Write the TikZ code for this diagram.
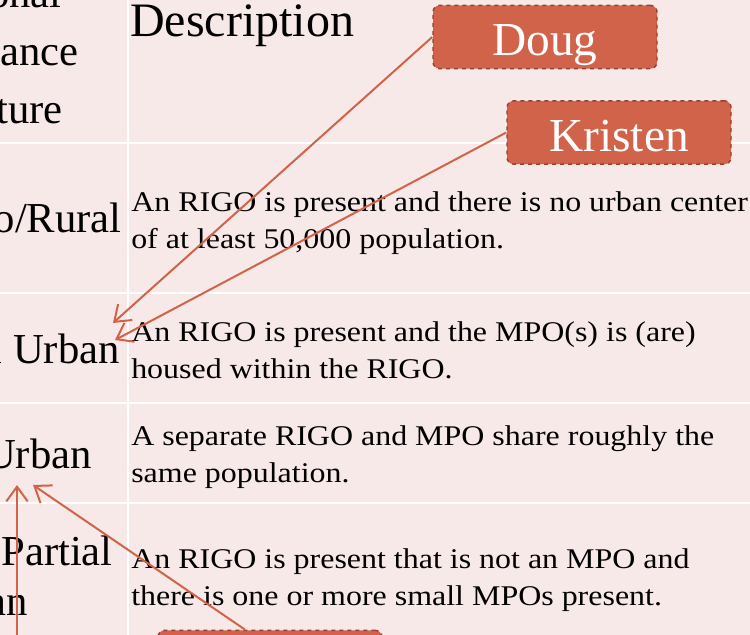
\documentclass[tikz,border=0pt]{standalone}
\usepackage{fontspec}
\setmainfont{Liberation Serif}
\newfontfamily\descfont[FakeStretch=1.12]{Liberation Serif}
\usepackage{xcolor}
\usepackage{tikz}
\usetikzlibrary{arrows.meta,positioning}

\definecolor{cellpink}{RGB}{247,233,232}
\definecolor{callout}{RGB}{209,99,74}
\definecolor{calloutedge}{RGB}{158,62,46}

\begin{document}
\begin{tikzpicture}[
  x=0.75pt, y=-0.75pt,
  headtext/.style={font=\fontsize{32}{43}\selectfont, inner sep=0pt},
  desctext/.style={font=\fontsize{21.4}{27.75}\descfont, inner sep=0pt,
    align=left, anchor=base west},
  callbox/.style={fill=callout, draw=calloutedge, dashed, line width=1.1pt,
    rounded corners=5pt, text=white, font=\fontsize{35.5}{40}\selectfont,
    minimum width=168pt, minimum height=47.5pt, inner sep=0pt,
    text height=28.5pt, text depth=0pt},
  gridline/.style={draw=white, line width=2.2pt},
  arrow/.style={-{Straight Barb[length=11pt,width=16pt]}, line width=1.5pt, draw=callout}
]
  \useasboundingbox (0,0) rectangle (750,635);
  \clip (0,0) rectangle (750,635);
  \fill[cellpink] (0,0) rectangle (750,635);

  % table rules
  \draw[gridline] (128,0) -- (128,635);
  \foreach \y in {143,293,403,503}
    \draw[gridline] (0,\y) -- (750,\y);

  % left column
  \node[headtext, anchor=base east] (headone) at (62,8) {onal};
  \node[headtext, anchor=base east] (headtwo) at (79,65) {ance};
  \node[headtext, anchor=base east] (headthree) at (63,123) {ture};
  \node[headtext, anchor=base east] (rural) at (122,232) {o/Rural};
  \node[headtext, anchor=base east] (urbanone) at (120,363) {l Urban};
  \node[headtext, anchor=base east] (urbantwo) at (92,468) {Urban};
  \node[headtext, anchor=base east] (partial) at (113,565) {Partial};
  \node[headtext, anchor=base east] (partialend) at (28,615) {an};

  % description column (base = last line)
  \node[headtext, anchor=base west, font=\fontsize{36}{43}\selectfont] (deschead) at (130,37) {Description};
  \node[desctext] (rowone) at (131,248)
    {An RIGO is present and there is no urban center\\of at least 50,000 population.};
  \node[desctext] (rowtwo) at (131,378)
    {An RIGO is present and the MPO(s) is (are)\\housed within the RIGO.};
  \node[desctext] (rowthree) at (131,482)
    {A separate RIGO and MPO share roughly the\\same population.};
  \node[desctext] (rowfour) at (131,605)
    {An RIGO is present that is not an MPO and\\there is one or more small MPOs present.};

  % callouts
  \node[callbox] (doug) at (545,37) {Doug};
  \node[callbox] (kristen) at (619,132.5) {Kristen};
  \node[callbox] (third) at (270,662) {};

  \coordinate (tipdoug) at (113,323);
  \coordinate (tipkristen) at (115,340);
  \coordinate (tipthird) at (33,485);
  \coordinate (tipside) at (17,485);
  \coordinate (sidefoot) at (17,660);

  \draw[arrow] (doug.west) -- (tipdoug);
  \draw[arrow] (kristen.west) -- (tipkristen);
  \draw[arrow] ([xshift=-18.75pt]third.north) -- (tipthird);
  \draw[arrow] (sidefoot) -- (tipside);
\end{tikzpicture}
\end{document}
